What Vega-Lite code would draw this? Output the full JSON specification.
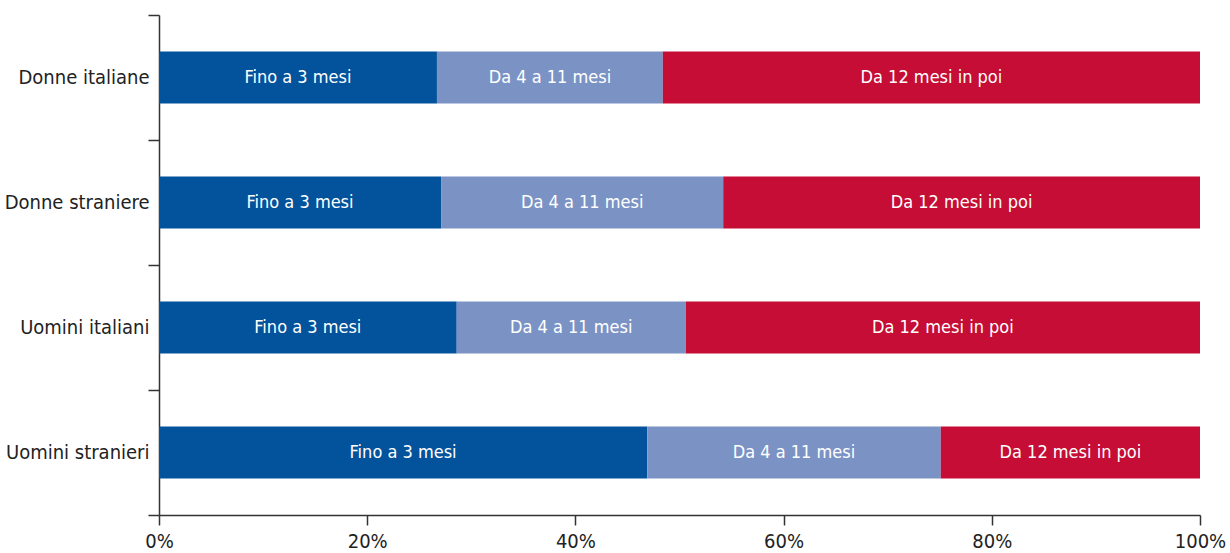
{
  "$schema": "https://vega.github.io/schema/vega-lite/v6.json",
  "width": 1041,
  "height": 500,
  "autosize": {"type": "none"},
  "padding": {"left": 159, "top": 15, "right": 30, "bottom": 38},
  "background": "white",
  "config": {
    "view": {"stroke": null},
    "font": "DejaVu Sans Condensed, Roboto, sans-serif",
    "axis": {"labelFont": "DejaVu Sans Condensed, Roboto, sans-serif", "domainColor": "#333333", "tickColor": "#333333", "labelColor": "#222222", "grid": false, "title": null}
  },
  "data": {
    "values": [
      {"group": "Donne italiane", "cls": "Fino a 3 mesi", "ord": 1, "value": 26.7},
      {"group": "Donne italiane", "cls": "Da 4 a 11 mesi", "ord": 2, "value": 21.7},
      {"group": "Donne italiane", "cls": "Da 12 mesi in poi", "ord": 3, "value": 51.6},
      {"group": "Donne straniere", "cls": "Fino a 3 mesi", "ord": 1, "value": 27.1},
      {"group": "Donne straniere", "cls": "Da 4 a 11 mesi", "ord": 2, "value": 27.1},
      {"group": "Donne straniere", "cls": "Da 12 mesi in poi", "ord": 3, "value": 45.8},
      {"group": "Uomini italiani", "cls": "Fino a 3 mesi", "ord": 1, "value": 28.6},
      {"group": "Uomini italiani", "cls": "Da 4 a 11 mesi", "ord": 2, "value": 22.0},
      {"group": "Uomini italiani", "cls": "Da 12 mesi in poi", "ord": 3, "value": 49.4},
      {"group": "Uomini stranieri", "cls": "Fino a 3 mesi", "ord": 1, "value": 46.9},
      {"group": "Uomini stranieri", "cls": "Da 4 a 11 mesi", "ord": 2, "value": 28.2},
      {"group": "Uomini stranieri", "cls": "Da 12 mesi in poi", "ord": 3, "value": 24.9}
    ]
  },
  "transform": [
    {"stack": "value", "groupby": ["group"], "sort": [{"field": "ord", "order": "ascending"}], "as": ["v0", "v1"]},
    {"calculate": "(datum.v0 + datum.v1) / 2", "as": "mid"}
  ],
  "encoding": {
    "y": {
      "field": "group", "type": "nominal",
      "sort": ["Donne italiane", "Donne straniere", "Uomini italiani", "Uomini stranieri"],
      "scale": {"paddingInner": 0, "paddingOuter": 0},
      "axis": {"tickBand": "extent", "tickSize": 11, "tickWidth": 1.5, "domainWidth": 1.5, "labelPadding": -1, "labelFontSize": 20, "labelLimit": 200}
    }
  },
  "layer": [
    {
      "mark": {"type": "bar", "height": {"band": 0.416}},
      "encoding": {
        "x": {
          "field": "v0", "type": "quantitative",
          "scale": {"domain": [0, 100], "nice": false},
          "axis": {"values": [0, 20, 40, 60, 80, 100], "labelExpr": "datum.value + '%'", "tickSize": 10, "tickWidth": 1.5, "domainWidth": 1.5, "labelPadding": 6, "labelFontSize": 20, "labelFlush": false}
        },
        "x2": {"field": "v1"},
        "color": {
          "field": "cls", "type": "nominal", "legend": null,
          "scale": {"domain": ["Fino a 3 mesi", "Da 4 a 11 mesi", "Da 12 mesi in poi"], "range": ["#02529C", "#7B93C4", "#C50D35"]}
        }
      }
    },
    {
      "mark": {"type": "text", "color": "white", "fontSize": 18, "align": "center", "baseline": "middle"},
      "encoding": {
        "x": {"field": "mid", "type": "quantitative"},
        "text": {"field": "cls"}
      }
    }
  ]
}
